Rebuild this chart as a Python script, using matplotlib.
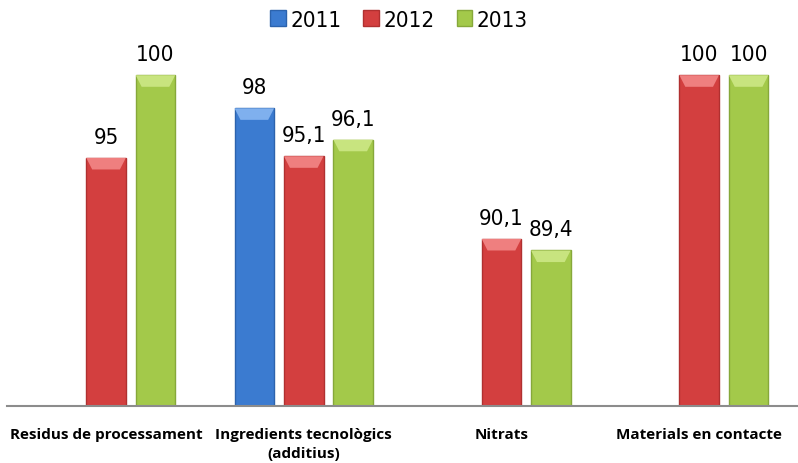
import numpy as np
import matplotlib.pyplot as plt
from matplotlib.patches import Polygon

categories = ['Residus de processament', 'Ingredients tecnològics\n(additius)',
              'Nitrats', 'Materials en contacte']
years = ['2011', '2012', '2013']
v2011 = [None, 98, None, None]
v2012 = [95, 95.1, 90.1, 100]
v2013 = [100, 96.1, 89.4, 100]
labels2011 = ['', '98', '', '']
labels2012 = ['95', '95,1', '90,1', '100']
labels2013 = ['100', '96,1', '89,4', '100']

colors = ['#3b7bd0', '#d33f3f', '#a3c94a']
tops = ['#7fb0ee', '#ef7f7f', '#c8e47f']
sides = ['#2c63ad', '#b03030', '#86a83a']

ymin = 80
fig = plt.figure(figsize=(7.98, 4.64), dpi=100)
ax = fig.add_axes([0.009, 0.123, 0.991, 0.784])

num_font = dict(family='DejaVu Sans', stretch='condensed')

x = np.arange(len(categories))
series = [v2011, v2012, v2013]
labs = [labels2011, labels2012, labels2013]
offsets = [-0.25, 0, 0.25]
w = 0.2
for i, (vals, lab) in enumerate(zip(series, labs)):
    xs = [x[j] + offsets[i] for j in range(len(vals)) if vals[j] is not None]
    hs = [vals[j] - ymin for j in range(len(vals)) if vals[j] is not None]
    ls = [lab[j] for j in range(len(vals)) if vals[j] is not None]
    bars = ax.bar(xs, hs, w, bottom=ymin, color=colors[i], edgecolor=sides[i],
                  linewidth=1, label=years[i], zorder=2)
    for b, t in zip(bars, ls):
        bx, bw = b.get_x(), b.get_width()
        top = b.get_y() + b.get_height()
        d = 0.7
        # bevel highlight on top
        ax.add_patch(Polygon([[bx, top], [bx + bw, top], [bx + bw * 0.85, top - d],
                              [bx + bw * 0.15, top - d]], closed=True,
                             facecolor=tops[i], edgecolor='none', zorder=3))
        ax.annotate(t, (bx + bw / 2, top), xytext=(0, 8), textcoords='offset points',
                    ha='center', va='bottom', fontsize=16, **num_font)

ax.set_xlim(-0.5, 3.5)
ax.set_ylim(ymin, 102)
ax.set_yticks([])
ax.set_xticks(x)
ax.set_xticklabels(categories, fontsize=11, fontweight='bold', family='Open Sans',
                   linespacing=1.5)
ax.tick_params(axis='x', length=0, pad=15)
for s in ['top', 'right', 'left']:
    ax.spines[s].set_visible(False)
ax.spines['bottom'].set_color('#8c8c8c')
ax.spines['bottom'].set_linewidth(1.5)

leg = fig.legend(loc='upper center', bbox_to_anchor=(0.5, 1.02), ncol=3, frameon=False,
                 handlelength=0.7, handleheight=0.7, handletextpad=0.2, columnspacing=1.0,
                 prop=dict(size=16, **num_font))

fig.savefig('out.png', dpi=100)
